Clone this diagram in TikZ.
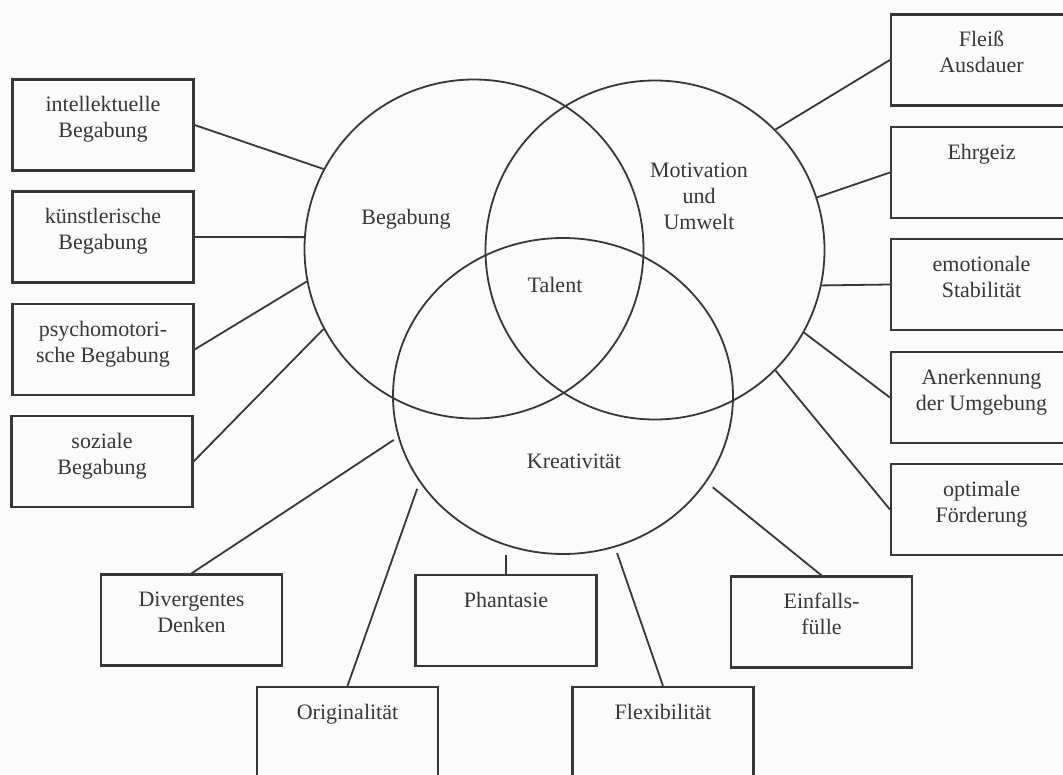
\documentclass[tikz,border=0pt]{standalone}
\usepackage{fontspec}
\setmainfont{Liberation Serif}
\usetikzlibrary{shapes.geometric,calc}
\definecolor{ink}{RGB}{55,55,55}
\definecolor{paper}{RGB}{251,251,251}
\begin{document}
\begin{tikzpicture}[x=1pt,y=-1pt,
  ring/.style={draw=ink, line width=1.8pt, circle, minimum size=339pt, inner sep=0pt},
  oval/.style={draw=ink, line width=1.8pt, ellipse, minimum width=340pt, minimum height=316pt, inner sep=0pt},
  box/.style={draw=ink, line width=2.2pt, minimum width=181pt, minimum height=91pt, inner sep=0pt},
  txt/.style={font=\fontsize{22}{26}\selectfont, align=center, inner sep=0pt, anchor=north, text=ink},
  conn/.style={draw=ink, line width=1.8pt}]
\useasboundingbox (0,0) rectangle (1063,774);
\clip (0,0) rectangle (1063,774);
\fill[paper] (0,0) rectangle (1063,774);

% circles
\node[ring] (beg) at (474,249) {};
\node[ring] (mot) at (655,250) {};
\node[oval] (kre) at (563,396) {};

\node[txt] (lbeg) at (406,205.8) {\strut Begabung};
\node[txt] (lmot) at (699,158.8) {\strut Motivation\\und\\Umwelt};
\node[txt] (ltal) at (555,273.8) {\strut Talent};
\node[txt] (lkre) at (574,449.8) {\strut Kreativität};

% left boxes
\node[box] (b1) at (103,125) {};
\node[box] (b2) at (103,237) {};
\node[box] (b3) at (103,349.5) {};
\node[box] (b4) at (102,461.5) {};
% right boxes
\node[box] (r1) at (981.5,60) {};
\node[box] (r2) at (981.5,172.5) {};
\node[box] (r3) at (981.5,284.5) {};
\node[box] (r4) at (981.5,397.5) {};
\node[box] (r5) at (981.5,509.5) {};
% bottom boxes
\node[box] (d1) at (191.5,620) {};
\node[box] (d2) at (347.5,732.5) {};
\node[box] (d3) at (506,620.5) {};
\node[box] (d4) at (663,732.5) {};
\node[box] (d5) at (821.5,622) {};

% box texts
\node[txt] (t1) at ($(b1.north)+(0,15)$) {\strut intellektuelle\\Begabung};
\node[txt] (t2) at ($(b2.north)+(0,15)$) {\strut künstlerische\\Begabung};
\node[txt] (t3) at ($(b3.north)+(0,15)$) {\strut psychomotori-\\sche Begabung};
\node[txt] (t4) at ($(b4.north)+(0,15)$) {\strut soziale\\Begabung};
\node[txt] (s1) at ($(r1.north)+(0,15)$) {\strut Fleiß\\Ausdauer};
\node[txt] (s2) at ($(r2.north)+(0,15)$) {\strut Ehrgeiz};
\node[txt] (s3) at ($(r3.north)+(0,15)$) {\strut emotionale\\Stabilität};
\node[txt] (s4) at ($(r4.north)+(0,15)$) {\strut Anerkennung\\der Umgebung};
\node[txt] (s5) at ($(r5.north)+(0,15)$) {\strut optimale\\Förderung};
\node[txt] (u1) at ($(d1.north)+(0,15)$) {\strut Divergentes\\Denken};
\node[txt] (u2) at ($(d2.north)+(0,15)$) {\strut Originalität};
\node[txt] (u3) at ($(d3.north)+(0,15)$) {\strut Phantasie};
\node[txt] (u4) at ($(d4.north)+(0,15)$) {\strut Flexibilität};
\node[txt] (u5) at ($(d5.north)+(0,15)$) {\strut Einfalls-\\fülle};

% connectors
\draw[conn] (beg.152) -- (b1.east);
\draw[conn] (beg.176) -- (b2.east);
\draw[conn] (beg.191) -- (b3.east);
\draw[conn] (beg.208) -- (b4.east);
\draw[conn] (mot.45) -- (r1.west);
\draw[conn] (mot.18) -- (r2.west);
\draw[conn] (mot.348) -- (r3.west);
\draw[conn] (mot.331) -- (r4.west);
\draw[conn] (mot.315) -- (r5.west);
\draw[conn, shorten <=5pt] (kre.194) -- (d1.north);
\draw[conn, shorten <=7pt] (kre.211) -- (d2.north);
\draw[conn] (kre.south -| d3.north) -- (d3.north);
\draw[conn, shorten <=6pt] (kre.289) -- (d4.north);
\draw[conn, shorten <=8pt] (kre.329) -- (d5.north);
\end{tikzpicture}
\end{document}
